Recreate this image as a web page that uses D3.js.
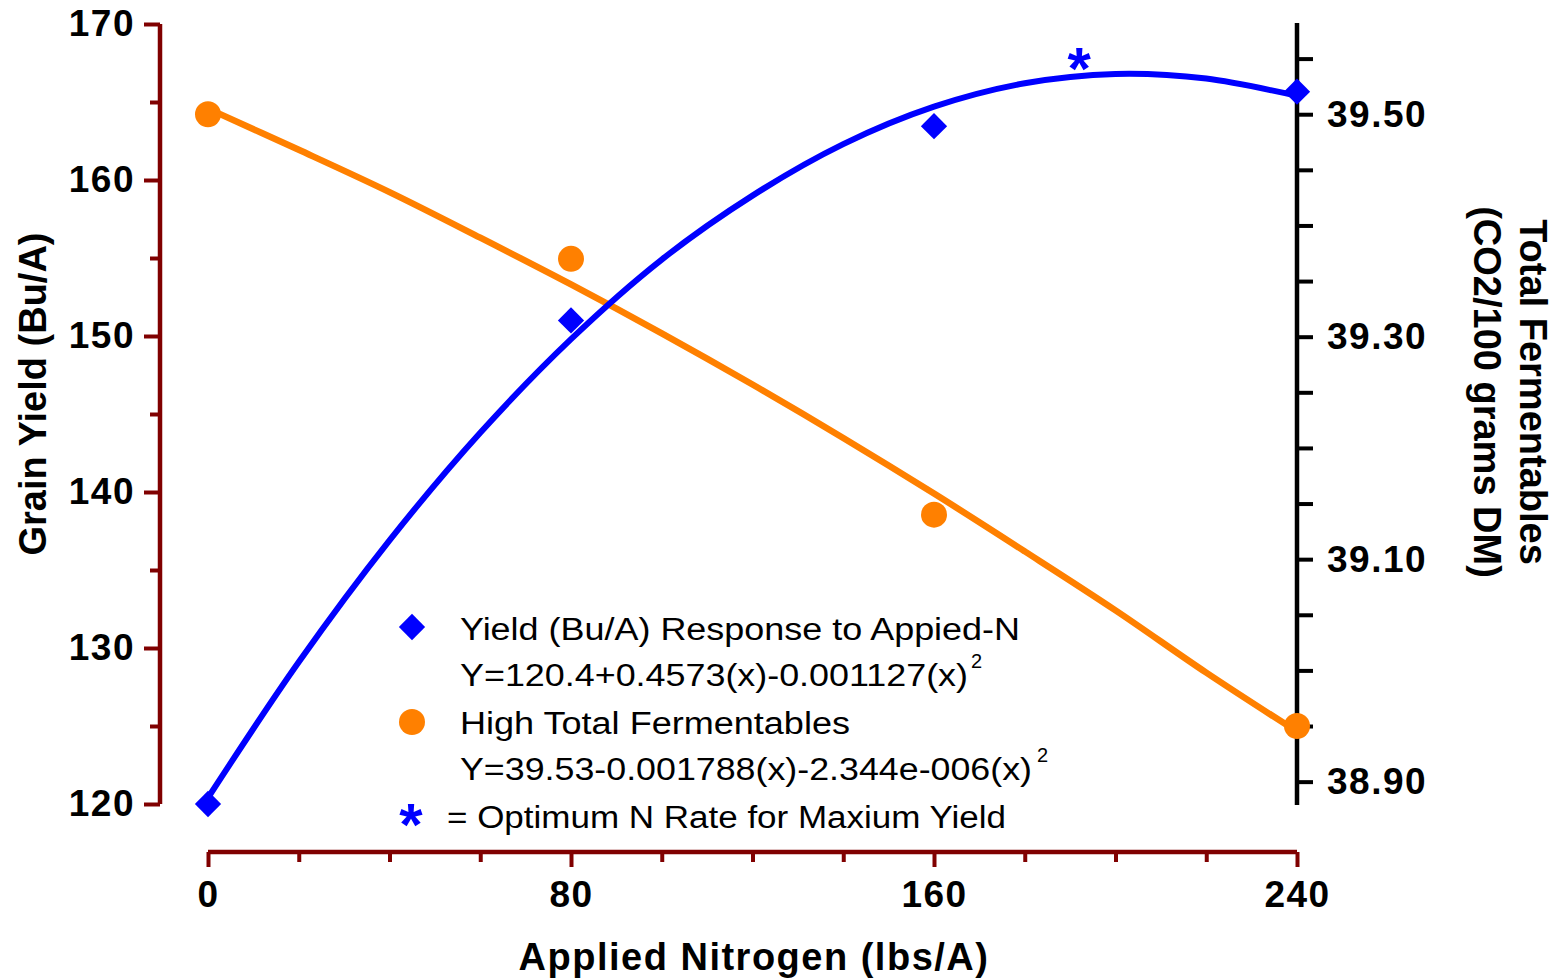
<!DOCTYPE html>
<html>
<head>
<meta charset="utf-8">
<script src="https://cdn.jsdelivr.net/npm/d3@7"></script>
<style>
  body { margin: 0; background: #fff; }
  svg text { font-family: "Liberation Sans", Arial, sans-serif; }
</style>
</head>
<body>
<div id="chart"></div>
<script>
// Observed values at each nitrogen rate
const nRates = [0, 80, 160, 240];
const yieldObs = [120.0, 151.0, 163.45, 165.66];
const fermObs = [39.50, 39.37, 39.14, 38.95];

// Fitted curves, every 20 lbs/A
const fitN = [0, 20, 40, 60, 80, 100, 120, 140, 160, 180, 200, 220, 240];
const yieldFit = [120.4, 129.1, 136.9, 143.8, 149.8, 154.9, 159.0, 162.3, 164.7, 166.2, 166.8, 166.5, 165.4];
const fermFit = [39.505, 39.468, 39.430, 39.389, 39.347, 39.303, 39.257, 39.209, 39.159, 39.107, 39.054, 38.998, 38.945];

// Optimum N marker
const optimumN = [192];
const optimumY = [168.0];

// Tick labels
const xTicks = [0, 80, 160, 240];
const xMinor = [20, 40, 60, 100, 120, 140, 180, 200, 220];
const leftTicks = [120, 130, 140, 150, 160, 170];
const leftMinor = [125, 135, 145, 155, 165];
const rightTicks = [38.90, 39.10, 39.30, 39.50];
const rightMinor = [38.95, 39.00, 39.05, 39.15, 39.20, 39.25, 39.35, 39.40, 39.45, 39.55];

// Legend text
const legendLines = [
    "Yield (Bu/A) Response to Appied-N",
    "Y=120.4+0.4573(x)-0.001127(x)",
    "High Total Fermentables",
    "Y=39.53-0.001788(x)-2.344e-006(x)",
    "= Optimum N Rate for Maxium Yield"
];

const width = 1559;
const height = 979;
const maroon = "#800000";
const blue = "#0000ff";
const orange = "#ff8000";

const svg = d3.select("#chart")
    .append("svg")
    .attr("width", width)
    .attr("height", height);

// Scales
const xScale = d3.scaleLinear().domain([0, 240]).range([208, 1297]);
const yLeft = d3.scaleLinear().domain([120, 170]).range([804, 24]);
const yRight = d3.scaleLinear().domain([38.879, 39.582]).range([805, 23]);

function styleAxis(g, color) {
    g.select(".domain").remove();
    g.selectAll(".tick line").attr("stroke", color).attr("stroke-width", 4);
    g.selectAll(".tick text")
        .attr("fill", "#000")
        .style("font-size", "37px")
        .style("font-weight", "bold")
        .style("letter-spacing", "1.5px");
}

// Left axis (grain yield)
const leftG = svg.append("g").attr("transform", "translate(160,0)");
leftG.append("g")
    .call(d3.axisLeft(yLeft).tickValues(leftMinor).tickSize(10).tickFormat(""))
    .call(g => styleAxis(g, maroon));
leftG.append("g")
    .call(d3.axisLeft(yLeft).tickValues(leftTicks).tickSize(16).tickPadding(9).tickFormat(d3.format("d")))
    .call(g => styleAxis(g, maroon));
leftG.append("line")
    .attr("x1", 0).attr("x2", 0)
    .attr("y1", yLeft.range()[1]).attr("y2", yLeft.range()[0])
    .attr("stroke", maroon).attr("stroke-width", 4.5);

// Bottom axis (applied N)
const bottomG = svg.append("g").attr("transform", "translate(0,852)");
bottomG.append("g")
    .call(d3.axisBottom(xScale).tickValues(xMinor).tickSize(10).tickFormat(""))
    .call(g => styleAxis(g, maroon));
bottomG.append("g")
    .call(d3.axisBottom(xScale).tickValues(xTicks).tickSize(15).tickPadding(14).tickFormat(d3.format("d")))
    .call(g => styleAxis(g, maroon));
bottomG.append("line")
    .attr("x1", xScale.range()[0]).attr("x2", xScale.range()[1])
    .attr("y1", 0).attr("y2", 0)
    .attr("stroke", maroon).attr("stroke-width", 4.5);

// Right axis (fermentables)
const rightG = svg.append("g").attr("transform", "translate(1297,0)");
rightG.append("g")
    .call(d3.axisRight(yRight).tickValues(rightMinor).tickSize(16).tickFormat(""))
    .call(g => styleAxis(g, "#000"));
rightG.append("g")
    .call(d3.axisRight(yRight).tickValues(rightTicks).tickSize(16).tickPadding(14).tickFormat(d3.format(".2f")))
    .call(g => styleAxis(g, "#000"));
rightG.append("line")
    .attr("x1", 0).attr("x2", 0)
    .attr("y1", yRight.range()[1]).attr("y2", yRight.range()[0])
    .attr("stroke", "#000").attr("stroke-width", 4.5);

// Axis titles
svg.append("text")
    .attr("transform", "translate(754,970)")
    .attr("text-anchor", "middle")
    .style("font-size", "38px").style("font-weight", "bold")
    .style("letter-spacing", "1.5px")
    .text("Applied Nitrogen (lbs/A)");

svg.append("text")
    .attr("transform", "translate(46,394) rotate(-90)")
    .attr("text-anchor", "middle")
    .style("font-size", "38px").style("font-weight", "bold")
    .text("Grain Yield (Bu/A)");

svg.append("text")
    .attr("transform", "translate(1520,392) rotate(90)")
    .attr("text-anchor", "middle")
    .style("font-size", "38px").style("font-weight", "bold")
    .text("Total Fermentables");

svg.append("text")
    .attr("transform", "translate(1474,392) rotate(90)")
    .attr("text-anchor", "middle")
    .style("font-size", "38px").style("font-weight", "bold")
    .text("(CO2/100 grams DM)");

// Fitted curves
const yieldLine = d3.line()
    .x((d, i) => xScale(fitN[i]))
    .y(d => yLeft(d))
    .curve(d3.curveCatmullRom);

const fermLine = d3.line()
    .x((d, i) => xScale(fitN[i]))
    .y(d => yRight(d))
    .curve(d3.curveCatmullRom);

svg.append("path")
    .attr("d", fermLine(fermFit))
    .attr("fill", "none")
    .attr("stroke", orange)
    .attr("stroke-width", 6.5);

svg.append("path")
    .attr("d", yieldLine(yieldFit))
    .attr("fill", "none")
    .attr("stroke", blue)
    .attr("stroke-width", 6);

// Observed points
const diamond = d3.symbol().type(d3.symbolDiamond2).size(440);

svg.selectAll(".ferm-pt")
    .data(fermObs)
    .enter()
    .append("circle")
    .attr("class", "ferm-pt")
    .attr("cx", (d, i) => xScale(nRates[i]))
    .attr("cy", d => yRight(d))
    .attr("r", 13)
    .attr("fill", orange);

svg.selectAll(".yield-pt")
    .data(yieldObs)
    .enter()
    .append("path")
    .attr("class", "yield-pt")
    .attr("d", diamond)
    .attr("transform", (d, i) => `translate(${xScale(nRates[i])},${yLeft(d)})`)
    .attr("fill", blue);

// Optimum N asterisk
svg.selectAll(".optimum")
    .data(optimumY)
    .enter()
    .append("text")
    .attr("class", "optimum")
    .attr("x", (d, i) => xScale(optimumN[i]))
    .attr("y", d => yLeft(d) + 34)
    .attr("text-anchor", "middle")
    .attr("fill", blue)
    .style("font-size", "60px").style("font-weight", "bold")
    .text("*");

// Legend
const legend = svg.append("g").attr("id", "legend");

legend.append("path")
    .attr("d", diamond)
    .attr("transform", "translate(412,627)")
    .attr("fill", blue);

legend.append("circle")
    .attr("cx", 412).attr("cy", 722).attr("r", 13)
    .attr("fill", orange);

legend.append("text")
    .attr("x", 411).attr("y", 845)
    .attr("text-anchor", "middle")
    .attr("fill", blue)
    .style("font-size", "60px").style("font-weight", "bold")
    .text("*");

const lineX = [460, 460, 460, 460, 447];
const lineY = [640, 686, 734, 780, 828];
const lineW = [560, 508, 390, 572, 559];

legend.selectAll(".leg-text")
    .data(legendLines)
    .enter()
    .append("text")
    .attr("class", "leg-text")
    .attr("x", (d, i) => lineX[i])
    .attr("y", (d, i) => lineY[i])
    .attr("textLength", (d, i) => lineW[i])
    .attr("lengthAdjust", "spacingAndGlyphs")
    .style("font-size", "31px")
    .text(d => d);

// Superscript 2 on the two equations
[[971, 668], [1037, 762]].forEach(p => {
    legend.append("text")
        .attr("x", p[0]).attr("y", p[1])
        .style("font-size", "20px")
        .text("2");
});
</script>
</body>
</html>
